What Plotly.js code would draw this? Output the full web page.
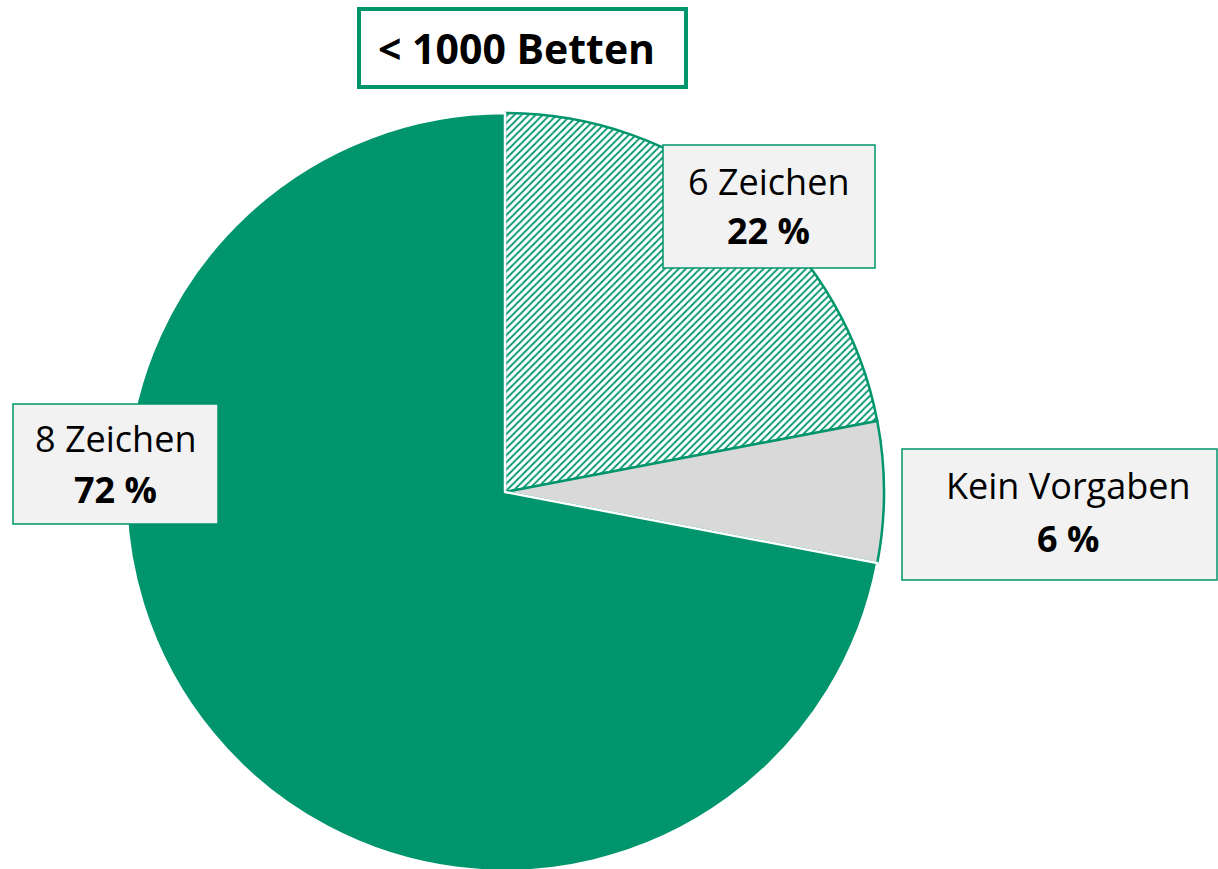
<!DOCTYPE html>
<html>
<head>
<meta charset="utf-8">
<script src="https://cdn.plot.ly/plotly-3.0.1.min.js"></script>
<style>html,body{margin:0;padding:0;background:#fff;overflow:hidden;}#chart{width:1218px;height:880px;}</style>
</head>
<body>
<div id="chart"></div>
<script>
const categories = ["6 Zeichen", "Kein Vorgaben", "8 Zeichen"];
const values = [22, 6, 72];
const chartTitle = "< 1000 Betten";

const GREEN = "#00956C";
const W = 1218, H = 880;
const px = x => x / W;
const py = y => 1 - y / H;
const FONT = "Open Sans, Noto Sans, sans-serif";

// label box geometry (layout only)
const boxes = [
  {x0: 663, x1: 875, y0: 145, y1: 268, cx: 769, l1: 181, l2: 230},
  {x0: 902, x1: 1217, y0: 449, y1: 580, cx: 1068, l1: 485, l2: 538},
  {x0: 13, x1: 218, y0: 404, y1: 524, cx: 115, l1: 439, l2: 490}
];

const shapes = [];
const annotations = [];
boxes.forEach((b, i) => {
  shapes.push({type: "rect", xref: "paper", yref: "paper",
    x0: px(b.x0), x1: px(b.x1), y0: py(b.y1), y1: py(b.y0),
    fillcolor: "#F2F2F2", line: {color: GREEN, width: 1.5}, layer: "above"});
  annotations.push({xref: "paper", yref: "paper", x: px(b.cx), y: py(b.l1),
    xanchor: "center", yanchor: "middle", showarrow: false,
    text: categories[i], font: {family: FONT, size: 36, color: "#000"}});
  annotations.push({xref: "paper", yref: "paper", x: px(b.cx), y: py(b.l2),
    xanchor: "center", yanchor: "middle", showarrow: false,
    text: "<b>" + values[i] + " %</b>", font: {family: FONT, size: 36, color: "#000"}});
});
// title box
shapes.push({type: "rect", xref: "paper", yref: "paper",
  x0: px(359), x1: px(686), y0: py(87), y1: py(9),
  fillcolor: "#FFFFFF", line: {color: GREEN, width: 4}, layer: "above"});
annotations.push({xref: "paper", yref: "paper", x: px(516), y: py(48),
  xanchor: "center", yanchor: "middle", showarrow: false,
  text: "<b>" + chartTitle + "</b>", font: {family: FONT, size: 41, color: "#000"}});

const trace = {
  type: "pie",
  labels: categories,
  values: values,
  sort: false,
  direction: "clockwise",
  rotation: 0,
  textinfo: "none",
  hoverinfo: "label+percent",
  showlegend: false,
  domain: {x: [px(105), px(905)], y: [py(871), py(113)]},
  marker: {
    colors: ["#FFFFFF", "#D9D9D9", GREEN],
    pattern: {
      shape: ["/", "", ""],
      fgcolor: [GREEN, GREEN, GREEN],
      bgcolor: ["#FFFFFF", "#D9D9D9", GREEN],
      size: 5,
      solidity: 0.35,
      fillmode: "replace"
    },
    line: {color: [GREEN, GREEN, "#FFFFFF"], width: 2.5}
  }
};

Plotly.newPlot("chart", [trace], {
  width: W, height: H,
  margin: {l: 0, r: 0, t: 0, b: 0},
  paper_bgcolor: "#FFFFFF",
  plot_bgcolor: "#FFFFFF",
  shapes: shapes,
  annotations: annotations
}, {displayModeBar: false, staticPlot: true});
</script>
</body>
</html>
